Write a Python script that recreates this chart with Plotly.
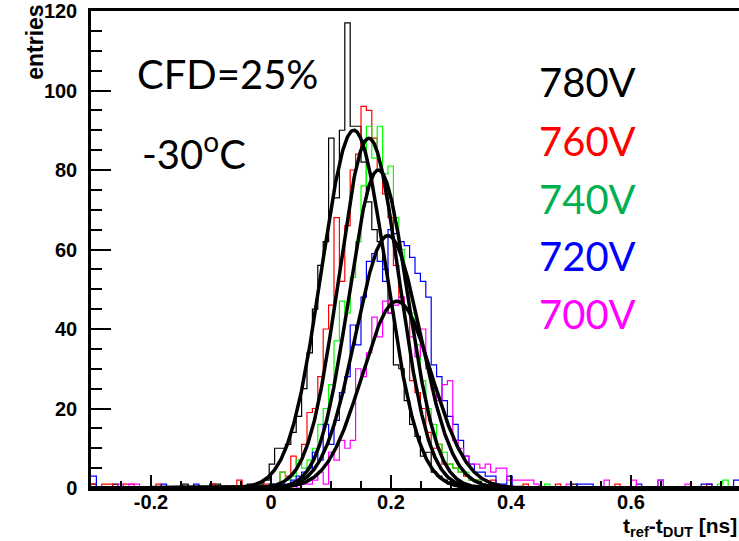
import numpy as np
import plotly.graph_objects as go

# ---------------- data ----------------
x_min, x_max, n_bins = -0.3, 0.78, 120
series_names = ["780V", "760V", "740V", "720V", "700V"]
hist_colors = ["#000000", "#ff0000", "#00ff00", "#0000ff", "#ff00ff"]
label_colors = ["#000000", "#ff0000", "#00b050", "#0000ff", "#ff00ff"]

counts_780V = [1,0,0,0,1,0,0,0,0,0,
               0,0,0,0,0,0,0,1,0,0,
               0,0,1,1,0,0,0,0,0,1,
               1,1,2,6,10,10,11,14,18,25,
               34,45,56,62,88,73,90,117,91,91,
               82,72,65,62,55,44,31,30,22,16,
               13,8,9,4,3,2,1,1,0,0,
               0,0,0,0,0,0,0,0,0,0,
               0,0,0,0,0,0,0,0,0,1,
               0,0,0,0,0,0,0,0,0,0,
               0,0,0,0,0,0,0,0,0,0,
               0,0,0,0,0,0,0,0,0,0]
counts_760V = [1,0,1,1,0,0,1,1,0,0,
               0,0,1,0,0,0,0,0,0,0,
               0,0,1,0,0,0,0,2,0,0,
               0,0,1,1,1,4,3,8,6,11,
               19,20,28,40,46,68,52,66,80,84,
               96,95,88,80,74,68,56,48,45,27,
               24,20,14,10,11,6,6,5,4,3,
               2,2,1,0,2,0,0,0,0,0,
               1,0,0,0,0,0,1,0,0,0,
               0,0,0,0,0,0,0,1,0,0,
               0,0,0,0,0,0,0,0,0,0,
               0,0,0,0,1,0,0,0,0,0]
counts_740V = [0,0,0,0,0,0,0,0,0,0,
               0,0,0,0,0,0,0,0,0,0,
               0,0,0,0,0,0,0,0,0,0,
               0,0,0,1,1,4,2,3,7,5,
               7,10,16,20,26,37,47,44,53,62,
               76,91,83,91,79,81,68,60,52,44,
               36,27,20,16,11,9,6,5,4,4,
               2,2,1,0,0,0,0,0,0,0,
               0,0,0,0,1,0,0,0,0,0,
               0,0,0,0,0,0,0,0,0,0,
               0,0,0,0,0,0,0,0,0,0,
               0,0,0,0,0,0,1,2,0,0]
counts_720V = [3,0,0,0,0,0,0,0,0,0,
               0,0,0,1,0,0,0,0,0,1,
               0,0,0,0,0,0,0,0,0,0,
               0,0,0,1,0,1,1,2,3,4,
               5,9,7,16,11,17,24,28,41,36,
               48,57,59,57,52,65,64,62,61,58,
               54,52,48,31,28,22,18,16,12,8,
               6,4,4,3,3,1,1,3,0,0,
               0,0,0,0,0,0,0,0,0,0,
               1,1,1,0,0,0,0,0,0,0,
               0,1,0,0,0,2,0,0,0,0,
               0,0,0,1,1,0,0,0,0,2]
counts_700V = [0,0,0,0,0,1,0,1,1,0,
               0,0,0,0,0,0,0,0,0,0,
               0,0,0,0,0,0,0,0,0,0,
               0,0,0,0,0,0,0,1,0,1,
               1,2,4,1,9,7,12,10,12,30,
               28,34,43,38,47,44,46,48,45,38,
               33,40,30,25,22,26,27,12,10,8,
               6,6,5,6,4,5,5,2,2,2,
               2,2,1,0,0,0,0,0,1,0,
               0,0,0,0,0,2,0,0,0,0,
               2,0,0,0,0,2,0,0,0,0,
               1,0,0,0,0,0,0,0,0,0]
all_counts = [counts_780V, counts_760V, counts_740V, counts_720V, counts_700V]

# gaussian fit parameters (constant, mean, sigma)
fit_amp = [90.0, 88.0, 80.0, 63.5, 47.0]
fit_mean = [0.138, 0.163, 0.179, 0.195, 0.210]
fit_sigma = [0.054, 0.050, 0.049, 0.054, 0.058]

x_tick_vals = [-0.2, 0, 0.2, 0.4, 0.6]
x_tick_text = ["-0.2", "0", "0.2", "0.4", "0.6"]
y_tick_vals = [0, 20, 40, 60, 80, 100, 120]
y_tick_text = ["0", "20", "40", "60", "80", "100", "120"]

# ---------------- figure ----------------
fig = go.Figure()
edges = np.linspace(x_min, x_max, n_bins + 1)

for counts, col in zip(all_counts, hist_colors):
    fig.add_trace(go.Scatter(
        x=edges, y=list(counts) + [counts[-1]],
        mode="lines", line=dict(color=col, width=1.2, shape="hv"),
        hoverinfo="skip", showlegend=False))

xf = np.linspace(x_min, x_max, 1200)
for a, m, s in zip(fit_amp, fit_mean, fit_sigma):
    fig.add_trace(go.Scatter(
        x=xf, y=a * np.exp(-0.5 * ((xf - m) / s) ** 2),
        mode="lines", line=dict(color="black", width=3.5),
        hoverinfo="skip", showlegend=False))

L, T, B = 91, 8, 53
W, H = 739, 541
pw, ph = W - L, H - T - B
def px(xp):
    return (xp - L) / pw
def py(yp):
    return (H - B - yp) / ph

axis_font = dict(family="Liberation Sans, Arial, sans-serif", size=20, color="black", weight="bold")

fig.update_layout(
    width=W, height=H,
    margin=dict(l=L, r=0, t=T, b=B),
    paper_bgcolor="white", plot_bgcolor="white",
    xaxis=dict(range=[x_min, x_min + pw / 600.0],
               tickmode="array", tickvals=x_tick_vals, ticktext=x_tick_text,
               ticks="inside", ticklen=13, tickwidth=1.5, tickcolor="black",
               minor=dict(dtick=0.05, tick0=0, ticks="inside", ticklen=7, tickwidth=1.5, tickcolor="black"),
               showline=True, linecolor="black", linewidth=2.5, mirror=True,
               showgrid=False, zeroline=False, tickfont=axis_font,
               ticklabelstandoff=-6, ticklabeloverflow="allow"),
    yaxis=dict(range=[0, 120],
               tickmode="array", tickvals=y_tick_vals, ticktext=y_tick_text,
               ticks="inside", ticklen=20, tickwidth=1.5, tickcolor="black",
               minor=dict(dtick=5, tick0=0, ticks="inside", ticklen=11, tickwidth=1.5, tickcolor="black"),
               showline=True, linecolor="black", linewidth=2.5, mirror=False,
               showgrid=False, zeroline=False, tickfont=axis_font,
               ticklabelstandoff=7, ticklabeloverflow="allow"),
)

ann = []
ann.append(dict(text="entries", x=px(35), y=py(40), xref="paper", yref="paper",
                textangle=-90, showarrow=False, xanchor="center", yanchor="middle",
                font=dict(family="Liberation Sans, Arial, sans-serif", size=23, color="black", weight="bold")))
ann.append(dict(text="t<sub>ref</sub>-t<sub>DUT</sub> [ns]", x=1.0, y=py(527), xref="paper", yref="paper",
                showarrow=False, xanchor="right", yanchor="middle",
                font=dict(family="Liberation Sans, Arial, sans-serif", size=21, color="black", weight="bold")))
big_font = "Lato, Carlito, Calibri, sans-serif"
ann.append(dict(text="CFD=25%", x=px(135), y=py(71), xref="paper", yref="paper",
                showarrow=False, xanchor="left", yanchor="middle",
                font=dict(family=big_font, size=40, color="black")))
ann.append(dict(text="-30<sup>o</sup>C", x=px(140), y=py(149), xref="paper", yref="paper",
                showarrow=False, xanchor="left", yanchor="middle",
                font=dict(family=big_font, size=40, color="black")))
label_y = [79, 139, 197, 255, 313]
for name, col, yy in zip(series_names, label_colors, label_y):
    ann.append(dict(text=name, x=px(537), y=py(yy), xref="paper", yref="paper",
                    showarrow=False, xanchor="left", yanchor="middle",
                    font=dict(family=big_font, size=40, color=col)))
fig.update_layout(annotations=ann)

fig.write_html("out.html", post_script="document.body.style.margin='0px';",
               config={"displayModeBar": False})
